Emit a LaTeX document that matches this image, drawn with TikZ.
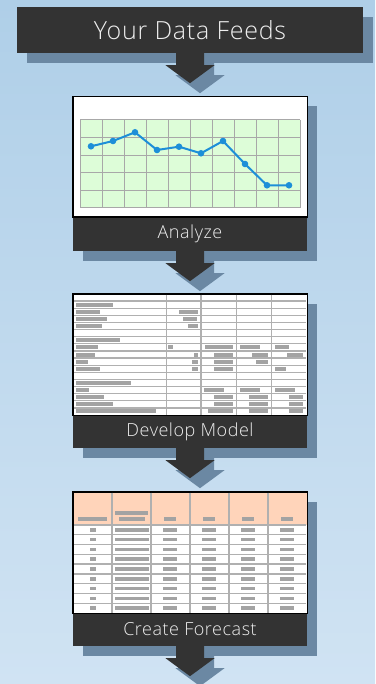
\documentclass[tikz,border=0pt]{standalone}
\usepackage{fontspec}
\setmainfont{Open Sans}[UprightFont={* Light},LetterSpace=3]
\usetikzlibrary{calc}
\definecolor{bgtop}{HTML}{AFCFE8}
\definecolor{bgbot}{HTML}{D0E3F3}
\definecolor{shadowc}{HTML}{6B88A3}
\definecolor{darkc}{HTML}{333333}
\definecolor{txtc}{HTML}{EEEEEE}
\definecolor{chartgreen}{HTML}{DDFDD8}
\definecolor{gridc}{HTML}{A8A8A8}
\definecolor{linec}{HTML}{1D8FD8}
\definecolor{peach}{HTML}{FFD4BA}
\definecolor{barc}{HTML}{A3A3A3}
\definecolor{rulec}{HTML}{B0B0B0}
\newcommand{\flowarrow}[3]{%
  \fill[#1] ($(#2.south)+(#3)+(-14,-0.5)$) -- ($(#2.south)+(#3)+(-14,12)$)
    -- ($(#2.south)+(#3)+(-24.5,12)$) -- ($(#2.south)+(#3)+(0,30)$)
    -- ($(#2.south)+(#3)+(24.5,12)$) -- ($(#2.south)+(#3)+(14,12)$)
    -- ($(#2.south)+(#3)+(14,-0.5)$) -- cycle;}
\begin{document}
\begin{tikzpicture}[x=1pt,y=-1pt,
  titlebox/.style={fill=darkc,text=txtc,minimum width=346pt,minimum height=46pt,inner sep=0pt,font=\fontsize{25}{30}\selectfont},
  panelbox/.style={fill=white,draw=black,line width=1pt,minimum width=234pt,inner sep=0pt},
  bandbox/.style={fill=darkc,text=txtc,minimum width=234pt,inner sep=0pt,font=\fontsize{18}{22}\selectfont},
  bar/.style={fill=barc},
  rowrule/.style={draw=rulec,line width=1.3pt},
  colrule/.style={draw=rulec,line width=1.5pt}]
\useasboundingbox (0,0) rectangle (375,684);
\shade[top color=bgtop,bottom color=bgbot] (0,0) rectangle (375,684);
% nodes (placed invisibly first for shadows)
\path node[titlebox,fill=none,text opacity=0] (title) at (190,30) {Your Data Feeds};
\path node[panelbox,minimum height=120pt,draw=none,fill=none] (p1) at (190,157) {};
\path node[bandbox,minimum height=34pt,fill=none,text opacity=0] (b1) at (190,234) {Analyze};
\path node[panelbox,minimum height=121pt,draw=none,fill=none] (p2) at (190,354.5) {};
\path node[bandbox,minimum height=33pt,fill=none,text opacity=0] (b2) at (190,431.5) {Develop Model};
\path node[panelbox,minimum height=121pt,draw=none,fill=none] (p3) at (190,552.5) {};
\path node[bandbox,minimum height=33pt,fill=none,text opacity=0] (b3) at (190,629.5) {Create Forecast};
% shadows
\fill[shadowc] ($(title.north west)+(10,10)$) rectangle ($(title.south east)+(10,10)$);
\fill[shadowc] ($(p1.north west)+(10,10)$) rectangle ($(b1.south east)+(10,10)$);
\fill[shadowc] ($(p2.north west)+(10,10)$) rectangle ($(b2.south east)+(10,10)$);
\fill[shadowc] ($(p3.north west)+(10,10)$) rectangle ($(b3.south east)+(10,10)$);
\flowarrow{shadowc}{title}{10,10}
\flowarrow{shadowc}{b1}{10,10}
\flowarrow{shadowc}{b2}{10,10}
\flowarrow{shadowc}{b3}{10,10}
% arrows
\flowarrow{darkc}{title}{0,0}
\flowarrow{darkc}{b1}{0,0}
\flowarrow{darkc}{b2}{0,0}
\flowarrow{darkc}{b3}{0,0}
% boxes
\node[titlebox] at (title) {Your Data Feeds};
\node[panelbox,minimum height=120pt] at (p1) {};
\node[bandbox,minimum height=34pt] at (b1) {Analyze};
\node[panelbox,minimum height=121pt] at (p2) {};
\node[bandbox,minimum height=33pt] at (b2) {Develop Model};
\node[panelbox,minimum height=121pt] at (p3) {};
\node[bandbox,minimum height=33pt] at (b3) {Create Forecast};
% chart
\fill[chartgreen] (80,120) rectangle (300,208);
\foreach \i in {0,...,10} \draw[gridc,line width=1pt] ({80+22*\i},120) -- ({80+22*\i},208);
\foreach \j in {0,...,5} \draw[gridc,line width=1pt] (80,{120+17.6*\j}) -- (300,{120+17.6*\j});
\draw[linec,line width=2pt,line join=round] (91,146.3) -- (113,141) -- (135,132.3) -- (157,150) -- (179,146.7) -- (201,153.3) -- (223,141) -- (245,164) -- (267,185.3) -- (289,185.3);
\foreach \x/\y in {91/146.3,113/141,135/132.3,157/150,179/146.7,201/153.3,223/141,245/164,267/185.3,289/185.3}
  \fill[linec] (\x,\y) circle (3.3pt);
% table 2
\foreach \k in {1,...,16} \draw[rowrule] (74,{294+7.12*\k}) -- (306,{294+7.12*\k});
\foreach \x in {166.7,201,236.7,271.7} \draw[colrule] (\x,294.5) -- (\x,414.5);
\foreach \r/\a/\b in {2/76/113,3/76/100,3/179/198,4/76/107,4/183/197,5/76/102,5/188/198,7/76/120,
  8/76/98,8/168/173,8/205/233,8/240/260,8/275/289,
  9/76/95,9/194/198,9/214/233,9/252/268,9/287/303,
  10/76/88,10/192/198,10/214/233,10/256/268,
  11/76/100,11/192/198,11/214/233,11/275/286,
  13/76/131,
  14/76/89,14/204/224,14/240/260,14/275/295,
  15/76/104,15/214/233,15/249/268,15/289/303,
  16/76/113,16/214/233,16/249/268,16/289/303,
  17/76/156,17/208/233,17/249/268,17/289/303}
  \fill[bar] (\a,{294+(\r-0.5)*7.12-2}) rectangle (\b,{294+(\r-0.5)*7.12+2});
\draw[black,line width=1pt] (p2.north west) rectangle (p2.south east);
% table 3
\fill[peach] (73.5,492.5) rectangle (306.5,525);
\foreach \k in {0,...,8} \draw[rowrule] (74,{525+9.78*\k}) -- (306,{525+9.78*\k});
\foreach \x in {112,151,190,229,268} \draw[colrule] (\x,492.5) -- (\x,612.5);
\foreach \a/\b in {78/107,119/145,164/176,203/215,242/254,281/293}
  \fill[bar] (\a,517.2) rectangle (\b,520.8);
\fill[bar] (115,510.9) rectangle (148,514.5);
\foreach \k in {1,...,9}
  \foreach \a/\b in {90/96,115/149,163/177,202/216,241/255,280/294}
    \fill[bar] (\a,{525+(\k-0.5)*9.78-1.8}) rectangle (\b,{525+(\k-0.5)*9.78+1.8});
\draw[black,line width=1pt] (p3.north west) rectangle (p3.south east);
\draw[black,line width=1pt] (p1.north west) rectangle (p1.south east);
\end{tikzpicture}
\end{document}
